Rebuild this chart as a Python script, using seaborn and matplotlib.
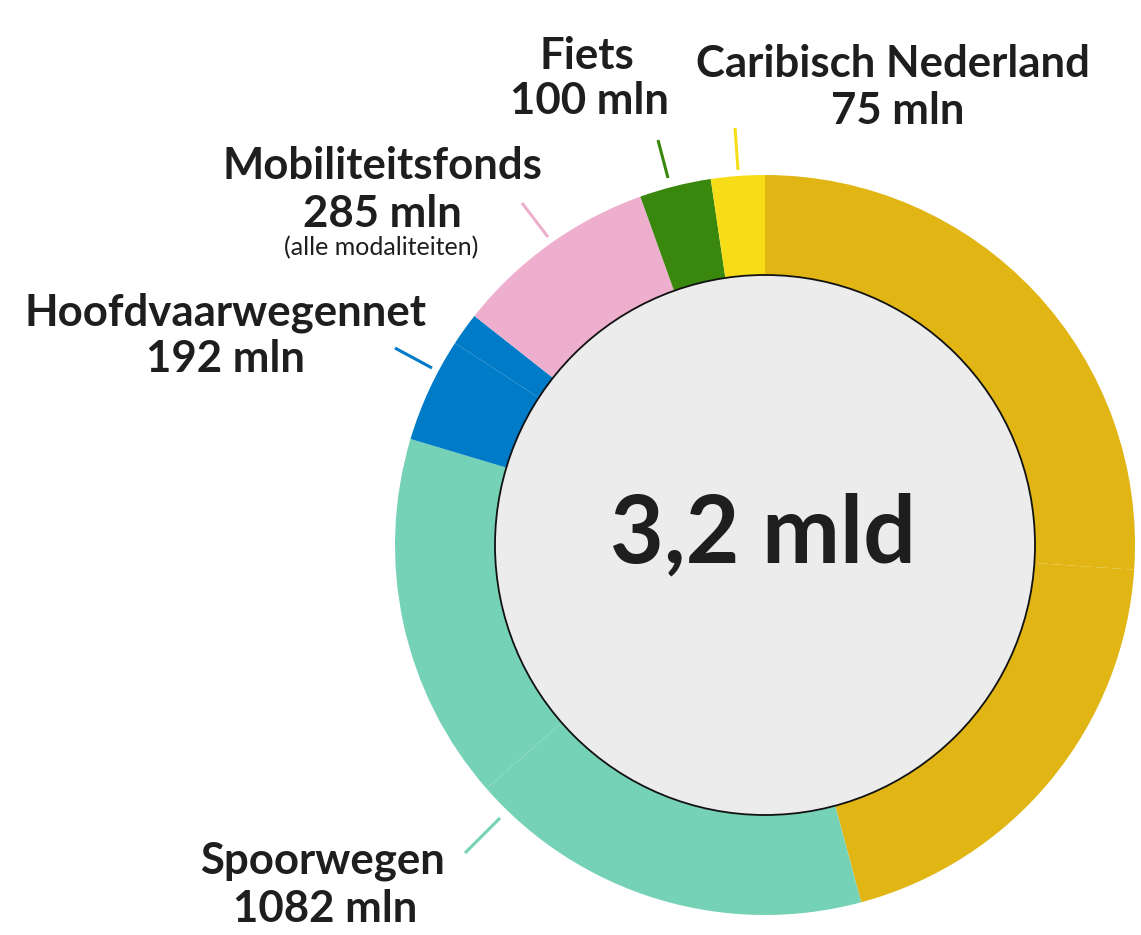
import matplotlib
matplotlib.use("Agg")
import matplotlib.pyplot as plt
import seaborn as sns
from matplotlib.patches import Circle

# ---- data (mln euro) ----
categories = ["Hoofdwegennet", "Spoorwegen", "Hoofdvaarwegennet",
              "Mobiliteitsfonds", "Fiets", "Caribisch Nederland"]
part_a = [834, 568, 146, 285, 100, 75]
part_b = [632, 514, 46, 0, 0, 0]
totals = [1466, 1082, 192, 285, 100, 75]
labels = ["", "Spoorwegen", "Hoofdvaarwegennet", "Mobiliteitsfonds",
          "Fiets", "Caribisch Nederland"]
value_labels = ["", "1082 mln", "192 mln", "285 mln", "100 mln", "75 mln"]
center_label = "3,2 mld"
colors = ["#E0B514", "#76D2B6", "#007BC7", "#EDAFCD", "#39870C", "#F6DD17"]

sns.set_theme(style="white")
plt.rcParams["font.family"] = ["Lato", "DejaVu Sans"]

W, H = 1141, 935
fig = plt.figure(figsize=(W / 100, H / 100), dpi=100)
ax = fig.add_axes([0, 0, 1, 1])

cx, cy = 765, H - 545
R_out, R_in = 370, 270

vals, cols = [], []
for a, b, c in zip(part_a, part_b, colors):
    for v in (a, b):
        if v > 0:
            vals.append(v)
            cols.append(c)

ax.pie(vals, colors=cols, startangle=90, counterclock=False,
       center=(cx, cy), radius=R_out,
       wedgeprops=dict(width=R_out - R_in, linewidth=0, antialiased=True))
ax.add_patch(Circle((cx, cy), R_in, facecolor="#ECECEC", edgecolor="#111111",
                    linewidth=1.3, zorder=3))

ax.set_xlim(0, W)
ax.set_ylim(0, H)
ax.set_aspect("equal")
ax.axis("off")

txt = "#1E1E1E"
fs = 31.5

def lab(x, y, s, size=fs, weight="bold"):
    ax.text(x, H - y, s, ha="center", va="center", fontsize=size,
            fontweight=weight, color=txt)

# labels
lab(587, 56, labels[4]); lab(590, 101, value_labels[4])
lab(893, 64, labels[5]); lab(898, 111, value_labels[5])
lab(382, 166, labels[3]); lab(382, 214, value_labels[3])
lab(381, 248, "(alle modaliteiten)", size=18, weight="normal")
lab(225, 313, labels[2]); lab(225, 359, value_labels[2])
lab(322, 861, labels[1]); lab(325, 909, value_labels[1])
ax.text(cx - 2, H - 535, center_label, ha="center", va="center", fontsize=67,
        fontweight="bold", color=txt, zorder=4)

# leader lines
leaders = [((658, 140), (668, 178), colors[4]),
           ((735, 128), (738, 170), colors[5]),
           ((522, 203), (548, 237), colors[3]),
           ((395, 348), (432, 368), colors[2]),
           ((465, 853), (500, 818), colors[1])]
for (x0, y0), (x1, y1), c in leaders:
    ax.plot([x0, x1], [H - y0, H - y1], color=c, linewidth=2.2,
            solid_capstyle="butt")

fig.savefig("out.png", dpi=100)
